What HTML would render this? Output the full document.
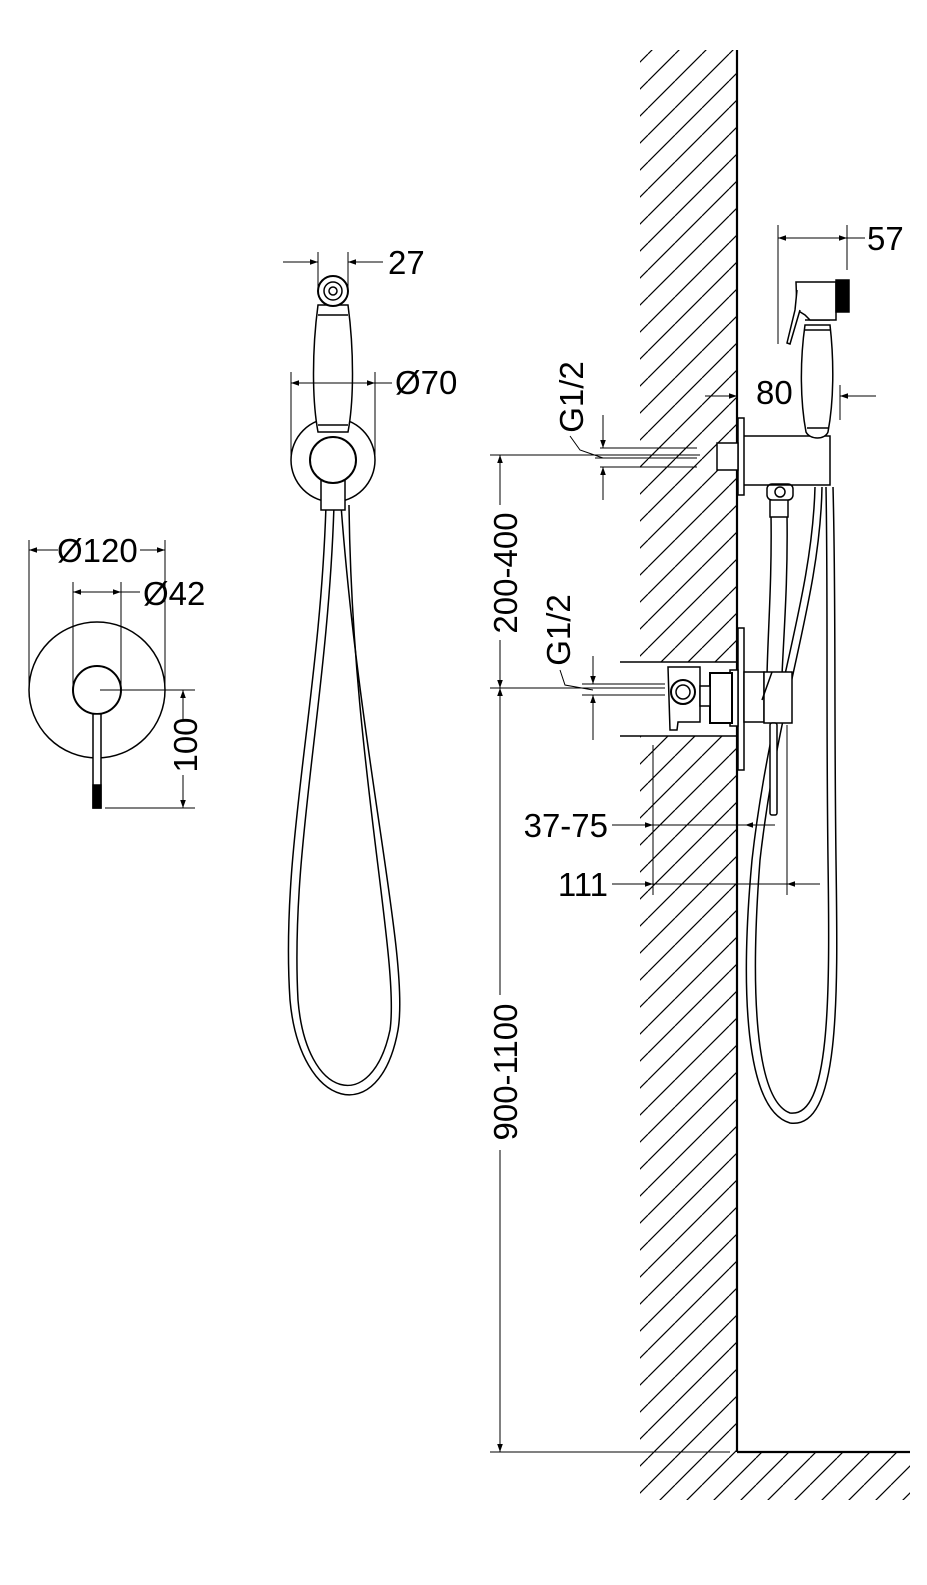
<!DOCTYPE html>
<html><head><meta charset="utf-8"><style>
html,body{margin:0;padding:0;background:#fff;}
svg{display:block;}
text{font-family:"Liberation Sans",Arial,sans-serif;fill:#000;}
</style></head><body>
<svg width="927" height="1585" viewBox="0 0 927 1585" xmlns="http://www.w3.org/2000/svg">
<defs>
<pattern id="h" width="27" height="27" patternUnits="userSpaceOnUse">
<line x1="0" y1="27" x2="27" y2="0" stroke="#000" stroke-width="1.2"/>
<line x1="-27" y1="27" x2="0" y2="0" stroke="#000" stroke-width="1.2"/>
<line x1="27" y1="27" x2="54" y2="0" stroke="#000" stroke-width="1.2"/>
</pattern>
<marker id="a" viewBox="0 0 10 10" refX="10" refY="5" markerWidth="17" markerHeight="8" markerUnits="userSpaceOnUse" orient="auto-start-reverse">
<path d="M0,1.5 L10,5 L0,8.5 Z" fill="#000"/></marker>
</defs>
<g fill="none" stroke="#000" stroke-width="1.5">
<rect x="640" y="50" width="97" height="1402" fill="url(#h)" stroke="none"/>
<rect x="640" y="1452" width="270" height="48" fill="url(#h)" stroke="none"/>
<rect x="638" y="662" width="99" height="74" fill="#fff" stroke="none"/>
<line x1="737" y1="50" x2="737" y2="1452" stroke-width="2.2"/>
<line x1="737" y1="1452" x2="910" y2="1452" stroke-width="2.2"/>
<line x1="620" y1="662" x2="737" y2="662"/>
<line x1="620" y1="736" x2="737" y2="736"/>

<circle cx="97" cy="690" r="68"/>
<circle cx="97" cy="690" r="24" stroke-width="2"/>
<rect x="93" y="714" width="8" height="94" fill="#fff"/>
<rect x="93" y="785" width="8" height="23" fill="#000"/>
<line x1="29" y1="540" x2="29" y2="690" stroke-width="1"/>
<line x1="165" y1="540" x2="165" y2="690" stroke-width="1"/>
<line x1="29" y1="550" x2="58" y2="550" stroke-width="1" marker-start="url(#a)"/>
<line x1="140" y1="550" x2="165" y2="550" stroke-width="1" marker-end="url(#a)"/>
<line x1="73" y1="582" x2="73" y2="690" stroke-width="1"/>
<line x1="121" y1="582" x2="121" y2="690" stroke-width="1"/>
<line x1="73" y1="592" x2="121" y2="592" stroke-width="1" marker-start="url(#a)" marker-end="url(#a)"/>
<line x1="121" y1="592" x2="140" y2="592" stroke-width="1"/>
<line x1="100" y1="690" x2="195" y2="690" stroke-width="1"/>
<line x1="105" y1="808" x2="195" y2="808" stroke-width="1"/>
<line x1="183" y1="690" x2="183" y2="720" stroke-width="1" marker-start="url(#a)"/>
<line x1="183" y1="775" x2="183" y2="808" stroke-width="1" marker-end="url(#a)"/>

<path d="M326,505 C320,700 280,850 290,1000 C300,1110 380,1130 398,1030 C410,960 360,760 341,505"/>
<path d="M334,505 C328,700 290,850 298,1000 C306,1100 372,1115 390,1030 C400,960 352,760 349,505"/>
<circle cx="333" cy="460" r="42" fill="#fff"/>
<rect x="321" y="480" width="24" height="30" fill="#fff"/>
<path d="M318,305 C312,350 312,400 318,432 L348,432 C354,400 354,350 348,305 Z" fill="#fff"/>
<line x1="318" y1="315" x2="348" y2="315"/>
<line x1="318" y1="425" x2="348" y2="425"/>
<circle cx="333" cy="460" r="23" fill="#fff" stroke-width="2"/>
<circle cx="333" cy="291" r="15" fill="#fff" stroke-width="2"/>
<circle cx="333" cy="291" r="9"/>
<circle cx="333" cy="291" r="4"/>
<line x1="318" y1="252" x2="318" y2="290" stroke-width="1"/>
<line x1="348" y1="252" x2="348" y2="290" stroke-width="1"/>
<line x1="283" y1="262" x2="318" y2="262" stroke-width="1" marker-end="url(#a)"/>
<line x1="383" y1="262" x2="348" y2="262" stroke-width="1" marker-end="url(#a)"/>
<line x1="291" y1="372" x2="291" y2="455" stroke-width="1"/>
<line x1="375" y1="372" x2="375" y2="455" stroke-width="1"/>
<line x1="291" y1="383" x2="375" y2="383" stroke-width="1" marker-start="url(#a)" marker-end="url(#a)"/>
<line x1="375" y1="383" x2="392" y2="383" stroke-width="1"/>

<path d="M815,487 C812,600 770,700 752,860 C740,990 745,1110 790,1123 C840,1130 838,1000 836,860 C834,700 836,600 833,487"/>
<path d="M822,487 C820,600 778,700 760,860 C750,990 755,1100 790,1113 C830,1118 830,1000 828,860 C826,700 828,600 826,487"/>
<path d="M771,515 C772,580 768,630 767,675"/>
<path d="M787,515 C788,580 784,630 782,675"/>
<rect x="770" y="497" width="18" height="20" fill="#fff"/>
<rect x="767" y="484" width="26" height="16" rx="5" fill="#fff"/>
<circle cx="780" cy="492" r="5"/>
<rect x="738" y="418" width="6" height="77" fill="#fff"/>
<rect x="717" y="443" width="21" height="27" fill="#fff"/>
<path d="M744,436 L830,436 L830,485 L744,485"/>
<path d="M805,325 C800,360 800,400 806,432 C810,440 825,440 828,432 C834,400 834,360 830,325 Z" fill="#fff"/>
<line x1="805" y1="320" x2="830" y2="320"/>
<line x1="805" y1="330" x2="830" y2="330"/>
<line x1="807" y1="428" x2="828" y2="428"/>
<path d="M796,282 L836,282 L836,320 L810,320 L805,315 L797,310 Z" fill="#fff"/>
<rect x="836" y="280" width="13" height="32" fill="#000"/>
<path d="M797,290 L795,310 L787,343 L790,344 L800,310" fill="#fff"/>
<rect x="738" y="628" width="6" height="142" fill="#fff"/>
<rect x="730" y="670" width="8" height="56" fill="#fff"/>
<rect x="710" y="673" width="22" height="50" fill="#fff" stroke-width="2"/>
<rect x="744" y="672" width="20" height="50" fill="#fff"/>
<path d="M764,672 L792,672 L792,723 L764,723 Z" fill="#fff"/>
<line x1="762" y1="700" x2="772" y2="672"/>
<path d="M668,667 L700,667 L700,722 L678,722 L677,730 L670,730 Z" fill="#fff"/>
<rect x="700" y="686" width="10" height="20" fill="#fff"/>
<circle cx="683" cy="692" r="12" fill="#fff" stroke-width="2"/>
<circle cx="683" cy="692" r="7"/>
<rect x="770" y="723" width="7" height="92" rx="2" fill="#fff"/>

<line x1="600" y1="448" x2="697" y2="448" stroke-width="1"/>
<line x1="595" y1="458" x2="697" y2="458" stroke-width="1"/>
<line x1="600" y1="467" x2="697" y2="467" stroke-width="1"/>
<line x1="603" y1="415" x2="603" y2="448" stroke-width="1" marker-end="url(#a)"/>
<line x1="603" y1="500" x2="603" y2="467" stroke-width="1" marker-end="url(#a)"/>
<path d="M570,436 L580,450 L603,458" stroke-width="1"/>
<line x1="582" y1="684" x2="665" y2="684" stroke-width="1"/>
<line x1="490" y1="688" x2="665" y2="688" stroke-width="1"/>
<line x1="582" y1="695" x2="665" y2="695" stroke-width="1"/>
<line x1="593" y1="656" x2="593" y2="684" stroke-width="1" marker-end="url(#a)"/>
<line x1="593" y1="740" x2="593" y2="695" stroke-width="1" marker-end="url(#a)"/>
<path d="M560,670 L565,685 L593,690" stroke-width="1"/>
<line x1="490" y1="455" x2="700" y2="455" stroke-width="1"/>
<line x1="500" y1="455" x2="500" y2="505" stroke-width="1" marker-start="url(#a)"/>
<line x1="500" y1="640" x2="500" y2="688" stroke-width="1" marker-end="url(#a)"/>
<line x1="500" y1="688" x2="500" y2="995" stroke-width="1" marker-start="url(#a)"/>
<line x1="500" y1="1150" x2="500" y2="1452" stroke-width="1" marker-end="url(#a)"/>
<line x1="490" y1="1452" x2="730" y2="1452" stroke-width="1"/>
<line x1="778" y1="225" x2="778" y2="344" stroke-width="1"/>
<line x1="847" y1="225" x2="847" y2="270" stroke-width="1"/>
<line x1="778" y1="238" x2="847" y2="238" stroke-width="1" marker-start="url(#a)" marker-end="url(#a)"/>
<line x1="847" y1="238" x2="865" y2="238" stroke-width="1"/>
<line x1="705" y1="396" x2="737" y2="396" stroke-width="1" marker-end="url(#a)"/>
<line x1="876" y1="396" x2="840" y2="396" stroke-width="1" marker-end="url(#a)"/>
<line x1="840" y1="385" x2="840" y2="420" stroke-width="1"/>
<line x1="653" y1="745" x2="653" y2="895" stroke-width="1"/>
<line x1="787" y1="725" x2="787" y2="895" stroke-width="1"/>
<line x1="612" y1="825" x2="653" y2="825" stroke-width="1" marker-end="url(#a)"/>
<line x1="653" y1="825" x2="775" y2="825" stroke-width="1"/>
<line x1="762" y1="825" x2="745" y2="825" stroke-width="1" marker-end="url(#a)"/>
<line x1="612" y1="884" x2="653" y2="884" stroke-width="1" marker-end="url(#a)"/>
<line x1="653" y1="884" x2="820" y2="884" stroke-width="1"/>
<line x1="820" y1="884" x2="787" y2="884" stroke-width="1" marker-end="url(#a)"/>
</g>
<g font-size="33">
<text x="57" y="562">Ø120</text>
<text x="143" y="605">Ø42</text>
<text x="197" y="745" transform="rotate(-90 197 745)" text-anchor="middle">100</text>
<text x="388" y="274">27</text>
<text x="395" y="394">Ø70</text>
<text x="867" y="250">57</text>
<text x="756" y="404">80</text>
<text x="608" y="837" text-anchor="end">37-75</text>
<text x="608" y="896" text-anchor="end">111</text>
<text x="583" y="397" transform="rotate(-90 583 397)" text-anchor="middle">G1/2</text>
<text x="570" y="630" transform="rotate(-90 570 630)" text-anchor="middle">G1/2</text>
<text x="517" y="573" transform="rotate(-90 517 573)" text-anchor="middle">200-400</text>
<text x="517" y="1072" transform="rotate(-90 517 1072)" text-anchor="middle">900-1100</text>
</g>
</svg>
</body></html>
